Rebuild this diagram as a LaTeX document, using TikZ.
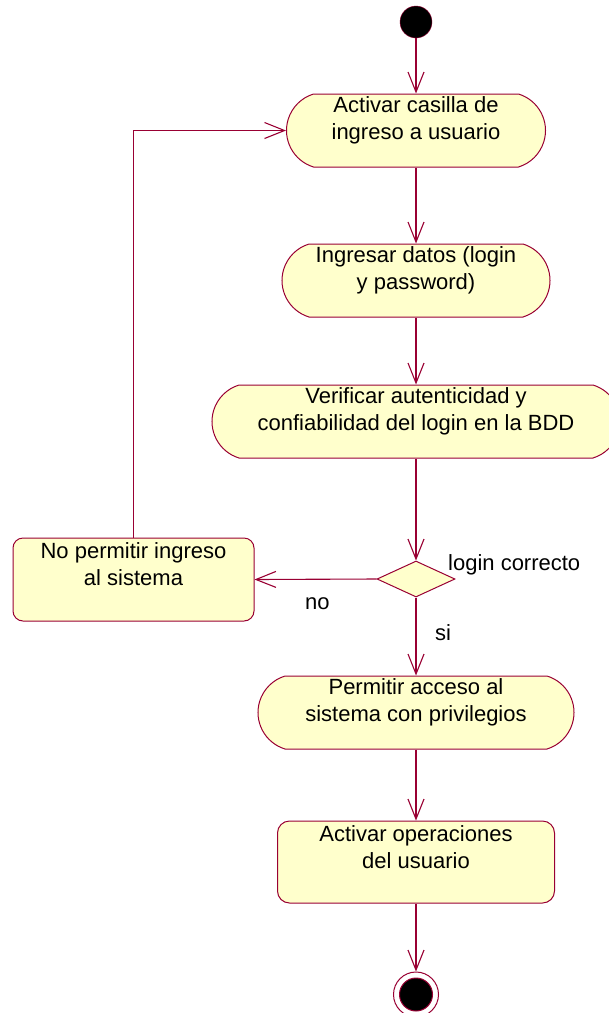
\documentclass[tikz,border=0pt]{standalone}
\usepackage{fontspec}
\setmainfont{Liberation Sans}
\usetikzlibrary{shapes.misc,shapes.geometric,arrows.meta}
\definecolor{edgecol}{RGB}{153,0,51}
\definecolor{fillcol}{RGB}{255,255,204}
\begin{document}
\begin{tikzpicture}[x=1pt,y=-1pt,
  act/.style={draw=edgecol, fill=fillcol, rounded rectangle,
    rounded rectangle arc length=146, inner sep=0pt, line width=1pt},
  box/.style={draw=edgecol, fill=fillcol, rectangle, rounded corners=10pt,
    inner sep=0pt, line width=1pt},
  txt/.style={anchor=north, align=center, inner sep=0pt,
    font=\fontsize{22}{27}\selectfont},
  lbl/.style={anchor=base west, inner sep=0pt, font=\fontsize{22}{27}\selectfont},
  flow/.style={draw=edgecol, line width=1.1pt,
    -{Straight Barb[length=20pt,width=16pt]}},
]
\useasboundingbox (0,0) rectangle (609,1013);
\clip (0,0) rectangle (609,1013);

% start and end states
\node[circle, draw=edgecol, fill=black, minimum size=32pt, inner sep=0pt] (ini) at (416,22) {};
\node[circle, draw=edgecol, fill=white, minimum size=45pt, inner sep=0pt, line width=1pt] (fin) at (416,994.5) {};
\node[circle, draw=edgecol, fill=black, minimum size=33pt, inner sep=0pt, line width=1pt] (fincore) at (fin) {};

% activities
\node[act, minimum width=259pt, minimum height=73pt] (a1) at (416,130.5) {};
\node[txt] (a1t) at (a1.north) {\strut Activar casilla de\\ingreso a usuario};

\node[act, minimum width=268pt, minimum height=73pt] (a2) at (416,280.5) {};
\node[txt] (a2t) at (a2.north) {\strut Ingresar datos (login\\y password)};

\node[act, minimum width=408pt, minimum height=73pt] (a3) at (416,421.5) {};
\node[txt] (a3t) at (a3.north) {\strut Verificar autenticidad y\\confiabilidad del login en la BDD};

\node[diamond, draw=edgecol, fill=fillcol, minimum width=78pt, minimum height=36pt,
  inner sep=0pt, line width=1pt] (dec) at (416,579) {};

\node[box, minimum width=241pt, minimum height=83pt] (no) at (133.5,579.5) {};
\node[txt] (not) at ([yshift=-2pt]no.north) {\strut No permitir ingreso\\al sistema};

\node[act, minimum width=316pt, minimum height=73pt] (a4) at (416,712.5) {};
\node[txt] (a4t) at (a4.north) {\strut Permitir acceso al\\sistema con privilegios};

\node[box, rounded corners=12pt, minimum width=277pt, minimum height=82pt] (a5) at (416,862) {};
\node[txt] (a5t) at ([yshift=-2pt]a5.north) {\strut Activar operaciones\\del usuario};

% guard labels
\node[lbl] (lc) at (448,570) {login correcto};
\node[lbl] (lno) at (305,609) {no};
\node[lbl] (lsi) at (435,640) {si};

% transitions
\draw[flow] (ini) -- (a1);
\draw[flow] (a1) -- (a2);
\draw[flow] (a2) -- (a3);
\draw[flow] (a3) -- (dec);
\draw[flow] (dec.west) -- (no.east);
\draw[flow] (dec) -- (a4);
\draw[flow] (a4) -- (a5);
\draw[flow] (a5) -- (fin);
\draw[flow] (no.north) |- (a1.west);
\end{tikzpicture}
\end{document}
